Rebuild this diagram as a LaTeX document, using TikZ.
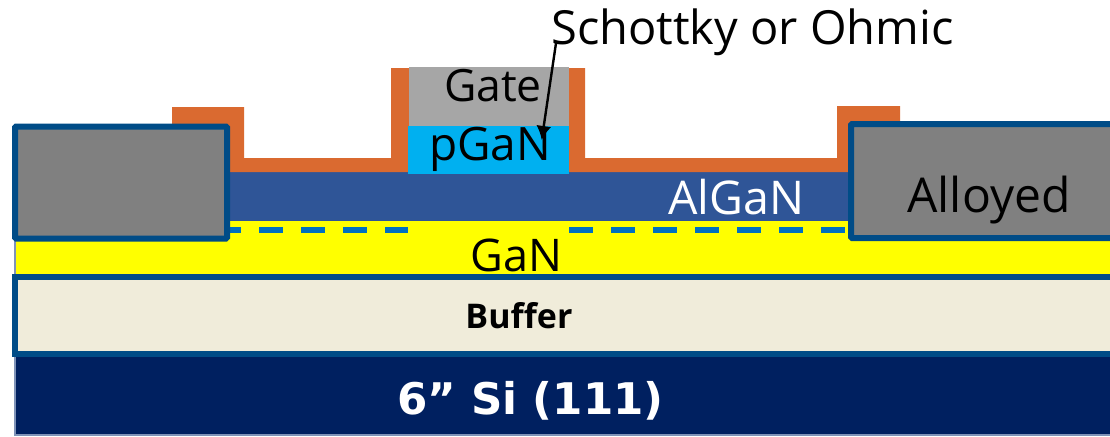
\documentclass[tikz,border=0pt]{standalone}
\usepackage{xcolor}
\usepackage{fontspec}
\setmainfont{Open Sans}
\newfontfamily\heavyfont{DejaVu Sans}
\usepackage{tikz}
\usetikzlibrary{positioning,arrows.meta}
\definecolor{siblue}{HTML}{002060}
\definecolor{bufcream}{HTML}{F0ECDA}
\definecolor{edgeblue}{HTML}{004C87}
\definecolor{algan}{HTML}{2F5597}
\definecolor{capblue}{HTML}{00B0F0}
\definecolor{twodeg}{HTML}{0070C0}
\definecolor{passiv}{HTML}{DA6A30}
\definecolor{ganyellow}{HTML}{FFFF00}
\definecolor{faintedge}{HTML}{7F93B8}
\tikzset{
  layer/.style={shape=rectangle, anchor=north west, inner sep=0pt, outer sep=0pt, align=center},
  contact/.style={layer, draw=edgeblue, line width=6pt, rounded corners=1pt, fill=black!50},
  lbl/.style={anchor=base, inner sep=0pt, outer sep=0pt},
  channel/.style={twodeg, line width=6pt, dash pattern=on 24pt off 18pt}
}
\begin{document}
\begin{tikzpicture}[x=1pt, y=-1pt]
\clip (0,0) rectangle (1110,436);
\node[layer, draw=faintedge, line width=1.5pt, fill=siblue, minimum width=1110pt, minimum height=79pt] (si) at (15.2,356) {};
\node[layer, draw=faintedge, line width=1.5pt, fill=ganyellow, minimum width=1110pt, minimum height=57pt] (gan) at (15.2,220) {};
\node[layer, fill=algan, minimum width=640pt, minimum height=50pt] (algan) at (220,171) {};
\fill[passiv] (172,107) -- (244,107) -- (244,158) -- (391,158) -- (391,68) -- (409,68) -- (409,172)
  -- (569,172) -- (569,68) -- (585,68) -- (585,158) -- (837,158) -- (837,106) -- (900,106) -- (900,172) -- (172,172) -- cycle;
\node[layer, fill=black!35, minimum width=160pt, minimum height=59pt] (gate) at (409,67) {};
\node[layer, fill=capblue, minimum width=161pt, minimum height=48pt] (pgan) at (408,126) {};
% channel
\coordinate (chl) at (217.3,230);
\coordinate (chn) at (569,230.3);
\coordinate (chr) at (845,230.3);
\draw[channel] (chl) -- (pgan.west |- chl);
\draw[channel] (chn) -- (chr);
\node[layer, draw=edgeblue, line width=6pt, fill=bufcream, minimum width=1120pt, minimum height=77pt] (buf) at (14.7,277) {};
\node[contact, minimum width=212pt, minimum height=112pt] (lc) at (15,126.5) {};
\node[contact, minimum width=300pt, minimum height=114pt] (rc) at (851,124) {};
% labels
\node[lbl, font=\fontsize{44.5}{44.5}\selectfont] (gatetxt) at (493,101) {Gate};
\node[lbl, font=\fontsize{46}{46}\selectfont] (pgantxt) at (490,160.5) {pGaN};
\node[lbl, text=white, font=\fontsize{46.5}{46.5}\selectfont] (algantxt) at (736.5,214) {AlGaN};
\node[lbl, font=\fontsize{45}{45}\selectfont] (gantxt) at (516.5,271.7) {GaN};
\node[lbl, font=\fontsize{48}{48}\selectfont] (alloytxt) at (989,212.7) {Alloyed};
\node[lbl, font=\fontsize{47}{47}\selectfont] (sch) at (752.5,45) {Schottky or Ohmic};
\node[lbl, font=\bfseries\fontsize{34}{34}\selectfont] (buftxt) at (519,328) {Buffer};
\node[lbl, text=white, font=\heavyfont\bfseries\fontsize{43.6}{43.6}\selectfont] (sitxt) at (530.5,414) {6” Si (111)};
\coordinate (tip) at (541.7,140);
\draw[-{Latex[length=14pt,width=15pt]}, line width=2.4pt] ([shift={(4.7,-2)}]sch.base west) -- (tip);
\end{tikzpicture}
\end{document}
